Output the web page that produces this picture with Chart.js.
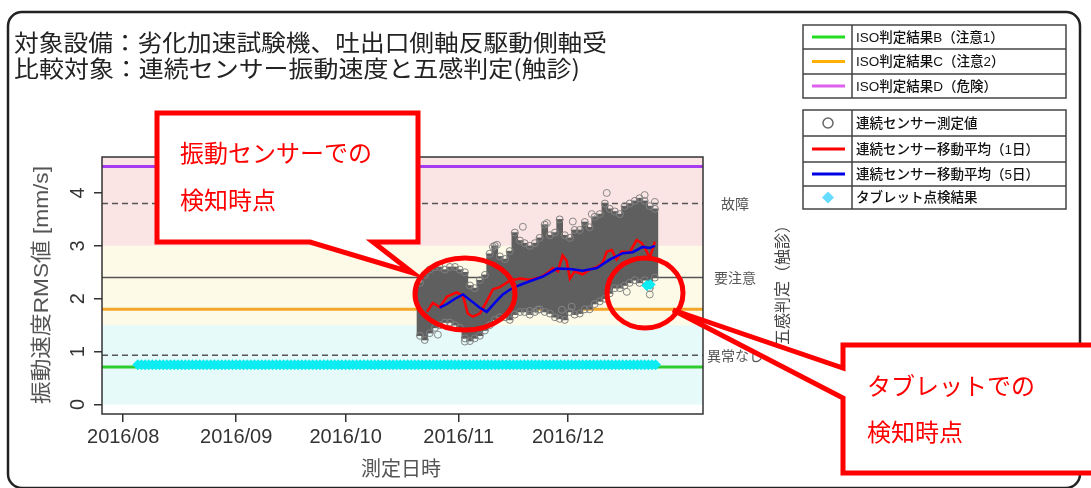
<!DOCTYPE html>
<html>
<head>
<meta charset="utf-8">
<script src="https://cdn.jsdelivr.net/npm/chart.js@4.4.1/dist/chart.umd.min.js"></script>
<style>
  html, body { margin: 0; padding: 0; background: #fff; }
  canvas { display: block; }
</style>
</head>
<body>
<canvas id="chart" width="1091" height="488"></canvas>
<script>
// x values are days counted from 2016/08/01
const monthDays = [0, 31, 61, 92, 122];
const monthLabels = ['2016/08', '2016/09', '2016/10', '2016/11', '2016/12'];
const yTicks = [0, 1, 2, 3, 4];

const isoLevels = [0.71, 1.8, 4.5]; // B, C, D
const senseLevels = [0.93, 2.4, 3.8];
const senseLabels = ['異常なし', '要注意', '故障'];
const zoneBreaks = [0, 1.5, 3.0, 5.0];

// continuous sensor readings: spread of the point cloud per bin
const cloudDays = [81.4, 82.7, 84.1, 85.5, 86.8, 88.2, 89.6, 91.0, 92.3, 93.7, 95.1, 96.4, 97.8, 99.2,
  100.5, 101.9, 103.3, 104.7, 106.0, 107.4, 108.8, 110.1, 111.5, 112.9, 114.2, 115.6, 117.0, 118.4,
  119.7, 121.1, 122.5, 123.8, 125.2, 126.6, 127.9, 129.3, 130.7, 132.1, 133.4, 134.8, 136.2, 137.5,
  138.9, 140.3, 141.6, 143.0, 144.4, 145.8];
const cloudMin = [1.3, 1.22, 1.35, 1.45, 1.5, 1.55, 1.55, 1.5, 1.45, 1.25, 1.2, 1.25, 1.3, 1.4,
  1.5, 1.6, 1.65, 1.65, 1.6, 1.7, 1.75, 1.75, 1.7, 1.75, 1.8, 1.75, 1.72, 1.65,
  1.62, 1.6, 1.75, 1.7, 1.72, 1.8, 1.8, 1.9, 1.95, 2.0, 2.1, 2.2, 2.2, 2.25,
  2.3, 2.35, 2.3, 2.35, 2.2, 2.4];
const cloudMax = [2.3, 2.45, 2.55, 2.6, 2.6, 2.55, 2.6, 2.6, 2.55, 2.5, 2.25, 2.2, 2.35, 2.45,
  2.85, 3.0, 2.8, 2.75, 2.9, 3.25, 3.1, 3.05, 3.0, 3.05, 3.15, 3.4, 3.2, 3.25,
  3.5, 3.2, 3.15, 3.3, 3.3, 3.45, 3.35, 3.55, 3.6, 3.8, 3.7, 3.65, 3.6, 3.75,
  3.8, 3.85, 3.9, 3.85, 3.75, 3.7];
const outlierDays = [86.3, 93.7, 113.7, 111.5, 138.1, 144.4, 109.6, 116.2, 123.3, 128.5, 132.6, 143.0, 145.8, 101.4, 102.5, 120.3, 123.0];
const outlierVals = [1.32, 1.19, 1.79, 1.77, 2.13, 2.08, 3.36, 3.43, 3.46, 3.6, 4.0, 3.96, 3.83, 2.98, 3.02, 1.79, 1.85];

// moving average (1 day)
const ma1Days = [83.3, 84.9, 86.8, 88.8, 91.5, 93.2, 94.5, 95.9, 97.8, 99.7, 101.4, 103.3, 106.0, 108.8,
  111.5, 114.2, 116.2, 117.8, 119.2, 120.5, 121.6, 122.5, 123.8, 126.0, 127.9, 129.9, 131.5, 132.6,
  134.0, 135.3, 136.7, 138.9, 140.8, 142.2, 143.6, 144.4, 145.8];
const ma1Vals = [1.75, 1.92, 1.84, 2.04, 2.12, 2.05, 1.72, 1.66, 1.72, 1.95, 2.18, 2.22, 2.34, 2.38,
  2.36, 2.4, 2.48, 2.58, 2.52, 2.82, 2.72, 2.38, 2.52, 2.46, 2.55, 2.6, 2.68, 2.89,
  2.92, 2.74, 2.89, 2.88, 3.11, 3.05, 2.89, 2.77, 3.08];

// moving average (5 days)
const ma5Days = [86.8, 88.8, 91.0, 93.2, 95.6, 97.8, 99.7, 101.9, 104.1, 106.0, 108.8, 111.5, 115.1,
  118.9, 122.5, 126.0, 129.9, 133.4, 137.0, 139.7, 142.5, 144.4, 145.8];
const ma5Vals = [1.83, 1.9, 2.0, 2.08, 1.95, 1.83, 1.75, 1.92, 2.08, 2.17, 2.26, 2.33, 2.42,
  2.57, 2.56, 2.53, 2.58, 2.74, 2.86, 2.88, 2.98, 2.96, 3.0];

// tablet inspection results (plotted at the sensory-judgement level)
const tabletDays = [4, 5, 6, 7, 8, 9, 10, 11, 12, 13, 14, 15, 16, 17, 18, 19, 20, 21, 22, 23, 24, 25, 26, 27, 28, 29, 30,
  31, 32, 33, 34, 35, 36, 37, 38, 39, 40, 41, 42, 43, 44, 45, 46, 47, 48, 49, 50, 51, 52, 53, 54, 55, 56, 57, 58, 59, 60,
  61, 62, 63, 64, 65, 66, 67, 68, 69, 70, 71, 72, 73, 74, 75, 76, 77, 78, 79, 80, 81, 82, 83, 84, 85, 86, 87, 88, 89, 90,
  91, 92, 93, 94, 95, 96, 97, 98, 99, 100, 101, 102, 103, 104, 105, 106, 107, 108, 109, 110, 111, 112, 113, 114, 115, 116,
  117, 118, 119, 120, 121, 122, 123, 124, 125, 126, 127, 128, 129, 130, 131, 132, 133, 134, 135, 136, 137, 138, 139, 140,
  141, 142, 143, 144, 145, 146, 143.6, 144.5];
const tabletVals = [0.75, 0.75, 0.75, 0.75, 0.75, 0.75, 0.75, 0.75, 0.75, 0.75, 0.75, 0.75, 0.75, 0.75, 0.75, 0.75, 0.75, 0.75, 0.75, 0.75, 0.75, 0.75, 0.75, 0.75, 0.75, 0.75, 0.75,
  0.75, 0.75, 0.75, 0.75, 0.75, 0.75, 0.75, 0.75, 0.75, 0.75, 0.75, 0.75, 0.75, 0.75, 0.75, 0.75, 0.75, 0.75, 0.75, 0.75, 0.75, 0.75, 0.75, 0.75, 0.75, 0.75, 0.75, 0.75, 0.75, 0.75,
  0.75, 0.75, 0.75, 0.75, 0.75, 0.75, 0.75, 0.75, 0.75, 0.75, 0.75, 0.75, 0.75, 0.75, 0.75, 0.75, 0.75, 0.75, 0.75, 0.75, 0.75, 0.75, 0.75, 0.75, 0.75, 0.75, 0.75, 0.75, 0.75, 0.75,
  0.75, 0.75, 0.75, 0.75, 0.75, 0.75, 0.75, 0.75, 0.75, 0.75, 0.75, 0.75, 0.75, 0.75, 0.75, 0.75, 0.75, 0.75, 0.75, 0.75, 0.75, 0.75, 0.75, 0.75, 0.75, 0.75,
  0.75, 0.75, 0.75, 0.75, 0.75, 0.75, 0.75, 0.75, 0.75, 0.75, 0.75, 0.75, 0.75, 0.75, 0.75, 0.75, 0.75, 0.75, 0.75, 0.75, 0.75, 0.75, 0.75, 0.75,
  0.75, 0.75, 0.75, 0.75, 0.75, 0.75, 2.25, 2.27];

const X_MIN = -5.8, X_MAX = 159;
const Y_MIN = -0.18, Y_MAX = 4.68;
const FONT = "'Liberation Sans', 'Noto Sans CJK JP', sans-serif";
const JP = "'Noto Sans CJK JP', sans-serif";

function pts(xs, ys) { return xs.map((x, i) => ({ x: x, y: ys[i] })); }
function hline(v) { return [{ x: X_MIN, y: v }, { x: X_MAX, y: v }]; }
function lineSet(v, color, width, dash, order) {
  return { type: 'line', data: hline(v), borderColor: color, borderWidth: width, borderDash: dash,
    pointRadius: 0, fill: false, order: order };
}

// horizontally fitted text (the original lettering is a little wider)
function fitText(c, str, x, y, w) {
  const m = c.measureText(str).width;
  c.save();
  c.translate(x, y);
  c.scale(w / m, 1);
  c.fillText(str, 0, 0);
  c.restore();
}

const zonePlugin = {
  id: 'zones',
  beforeDatasetsDraw(chart) {
    const c = chart.ctx, a = chart.chartArea, y = chart.scales.y;
    const colors = ['#e6fafa', '#fdfbe7', '#fbe4e4'];
    c.save();
    c.beginPath(); c.rect(a.left, a.top, a.right - a.left, a.bottom - a.top); c.clip();
    for (let i = 0; i < 3; i++) {
      const y0 = y.getPixelForValue(zoneBreaks[i]), y1 = y.getPixelForValue(zoneBreaks[i + 1]);
      c.fillStyle = colors[i];
      c.fillRect(a.left, y1, a.right - a.left, y0 - y1);
    }
    c.restore();
  },
  afterDatasetsDraw(chart) {
    const c = chart.ctx, a = chart.chartArea;
    c.save();
    c.strokeStyle = '#333'; c.lineWidth = 1.5;
    c.strokeRect(a.left, a.top, a.right - a.left, a.bottom - a.top);
    c.restore();
  }
};

const overlayPlugin = {
  id: 'overlay',
  afterDraw(chart) {
    const c = chart.ctx, ys = chart.scales.y;
    c.save();

    // title
    c.fillStyle = '#222';
    c.font = '23px ' + JP;
    c.textBaseline = 'middle';
    c.textAlign = 'left';
    fitText(c, '対象設備：劣化加速試験機、吐出口側軸反駆動側軸受', 14, 42, 593);
    fitText(c, '比較対象：連続センサー振動速度と五感判定(触診)', 14, 68, 566);

    // y tick labels (rotated, R style)
    c.fillStyle = '#333';
    c.font = '20px ' + FONT;
    c.textAlign = 'center';
    yTicks.forEach(v => {
      c.save();
      c.translate(77, ys.getPixelForValue(v));
      c.rotate(-Math.PI / 2);
      c.fillText(String(v), 0, 1);
      c.restore();
    });

    // axis titles
    c.fillStyle = '#555';
    c.save();
    c.translate(42, 285);
    c.rotate(-Math.PI / 2);
    c.font = '21px ' + FONT;
    c.textAlign = 'left';
    fitText(c, '振動速度RMS値 [mm/s]', -119, 0, 238);
    c.restore();
    c.font = '20px ' + JP;
    c.textAlign = 'center';
    c.fillText('測定日時', 401, 468);

    // sensory judgement levels on the right
    c.font = '14px ' + JP;
    c.fillStyle = '#555';
    senseLevels.forEach((v, i) => c.fillText(senseLabels[i], 735, ys.getPixelForValue(v)));
    c.save();
    c.translate(782, 281);
    c.rotate(-Math.PI / 2);
    c.font = '16px ' + JP;
    c.fillStyle = '#444';
    c.fillText('五感判定（触診）', 0, 0);
    c.restore();

    // legend tables
    const lx0 = 803, lx1 = 1066, ldiv = 852;
    const box1 = [25, 49, 74, 98], box2 = [110, 136, 162, 186, 209];
    const leg1 = [['ISO判定結果B（注意1）', '#22dd22'], ['ISO判定結果C（注意2）', '#ffb000'], ['ISO判定結果D（危険）', '#dd60ee']];
    const leg2 = [['連続センサー測定値', 'circle'], ['連続センサー移動平均（1日）', '#ff0000'],
      ['連続センサー移動平均（5日）', '#0000e6'], ['タブレット点検結果', 'diamond']];
    function table(rows, items) {
      c.strokeStyle = '#444'; c.lineWidth = 1.5;
      c.strokeRect(lx0, rows[0], lx1 - lx0, rows[rows.length - 1] - rows[0]);
      c.beginPath();
      c.moveTo(ldiv, rows[0]); c.lineTo(ldiv, rows[rows.length - 1]);
      for (let i = 1; i < rows.length - 1; i++) { c.moveTo(lx0, rows[i]); c.lineTo(lx1, rows[i]); }
      c.stroke();
      items.forEach((it, i) => {
        const cy = (rows[i] + rows[i + 1]) / 2;
        if (it[1] === 'circle') {
          c.strokeStyle = '#666'; c.lineWidth = 1.5;
          c.beginPath(); c.arc(828, cy, 5, 0, Math.PI * 2); c.stroke();
        } else if (it[1] === 'diamond') {
          c.fillStyle = '#66ddff';
          c.beginPath(); c.moveTo(828, cy - 6); c.lineTo(834, cy); c.lineTo(828, cy + 6); c.lineTo(822, cy); c.closePath(); c.fill();
        } else {
          c.strokeStyle = it[1]; c.lineWidth = 3;
          c.beginPath(); c.moveTo(812, cy); c.lineTo(845, cy); c.stroke();
        }
        c.fillStyle = '#111';
        c.font = '500 13.5px ' + FONT;
        c.textAlign = 'left';
        c.fillText(it[0], 856, cy + 1);
      });
    }
    table(box1, leg1);
    table(box2, leg2);

    // outer frame
    c.strokeStyle = '#222'; c.lineWidth = 2.5;
    c.beginPath(); c.roundRect(8, 12, 1072, 476, 14); c.stroke();

    // highlight ellipses
    c.strokeStyle = '#ff0000'; c.lineWidth = 5;
    c.beginPath(); c.ellipse(465, 294, 50, 36, 0, 0, Math.PI * 2); c.stroke();
    c.beginPath(); c.ellipse(645, 293, 38, 35, 0, 0, Math.PI * 2); c.stroke();

    // callouts
    function bubble(poly, lines, tx, ty) {
      c.beginPath();
      c.moveTo(poly[0][0], poly[0][1]);
      for (let i = 1; i < poly.length; i++) c.lineTo(poly[i][0], poly[i][1]);
      c.closePath();
      c.fillStyle = '#fff'; c.fill();
      c.strokeStyle = '#ff0000'; c.lineWidth = 5; c.lineJoin = 'miter'; c.stroke();
      c.fillStyle = '#ff0000';
      c.font = '24px ' + JP;
      c.textAlign = 'left';
      lines.forEach((s, i) => c.fillText(s, tx, ty[i]));
    }
    bubble([[157, 113], [418, 113], [418, 242], [373, 242], [413, 273], [310, 242], [157, 242]],
      ['振動センサーでの', '検知時点'], 180, [153, 200]);
    bubble([[843, 345], [1100, 345], [1100, 473], [843, 473], [843, 398], [673, 310], [843, 368]],
      ['タブレットでの', '検知時点'], 867, [386, 432]);

    c.restore();
  }
};

const datasets = [
  { type: 'scatter', data: pts(tabletDays, tabletVals), pointStyle: 'rectRot', pointRadius: 5.5,
    backgroundColor: '#0cecf2', borderWidth: 0, order: 1 },
  { type: 'line', data: pts(ma5Days, ma5Vals), borderColor: '#0000e6', borderWidth: 2.5, pointRadius: 0, fill: false, order: 2 },
  { type: 'line', data: pts(ma1Days, ma1Vals), borderColor: '#ff0000', borderWidth: 2.5, pointRadius: 0, fill: false, order: 3 },
  { type: 'scatter', data: pts(outlierDays, outlierVals), pointRadius: 3.5, borderColor: '#888', borderWidth: 1,
    backgroundColor: 'rgba(0,0,0,0)', order: 4 },
  { type: 'scatter', data: pts(cloudDays, cloudMax).concat(pts(cloudDays, cloudMin)), pointRadius: 3.5,
    borderColor: '#808080', borderWidth: 1, backgroundColor: 'rgba(0,0,0,0)', order: 5 },
  { type: 'bar', data: cloudDays.map((d, i) => ({ x: d, y: [cloudMin[i], cloudMax[i]] })),
    backgroundColor: '#5f5f5f', borderWidth: 0, barThickness: 6, grouped: false, order: 6 },
  lineSet(isoLevels[2], '#a63cf0', 3, [], 7),
  lineSet(isoLevels[1], '#f4a62a', 3, [], 8),
  lineSet(isoLevels[0], '#2ecc2e', 3, [], 9),
  lineSet(senseLevels[2], '#555', 1.5, [6, 4], 10),
  lineSet(senseLevels[1], '#555', 1.5, [], 11),
  lineSet(senseLevels[0], '#555', 1.5, [6, 4], 12)
];

const gridOpts = { drawOnChartArea: false, drawTicks: true, tickLength: 8, color: '#333', lineWidth: 1.5, offset: false };

new Chart(document.getElementById('chart').getContext('2d'), {
  type: 'line',
  data: { datasets: datasets },
  options: {
    responsive: false,
    animation: false,
    devicePixelRatio: 1,
    layout: { padding: { left: 0, top: 157, right: 388, bottom: 0 } },
    plugins: { legend: { display: false }, tooltip: { enabled: false } },
    scales: {
      x: {
        type: 'linear', min: X_MIN, max: X_MAX, offset: false,
        afterBuildTicks: s => { s.ticks = monthDays.map(v => ({ value: v })); },
        afterFit: s => { s.height = 74; },
        ticks: {
          autoSkip: false, maxRotation: 0, minRotation: 0, padding: 3, color: '#333',
          font: { family: 'Liberation Sans', size: 20 },
          callback: v => monthLabels[monthDays.indexOf(v)]
        },
        grid: gridOpts,
        border: { display: false }
      },
      y: {
        type: 'linear', min: Y_MIN, max: Y_MAX,
        afterBuildTicks: s => { s.ticks = yTicks.map(v => ({ value: v })); },
        afterFit: s => { s.width = 102; },
        ticks: { display: false },
        grid: gridOpts,
        border: { display: false }
      }
    }
  },
  plugins: [zonePlugin, overlayPlugin]
});
</script>
</body>
</html>
